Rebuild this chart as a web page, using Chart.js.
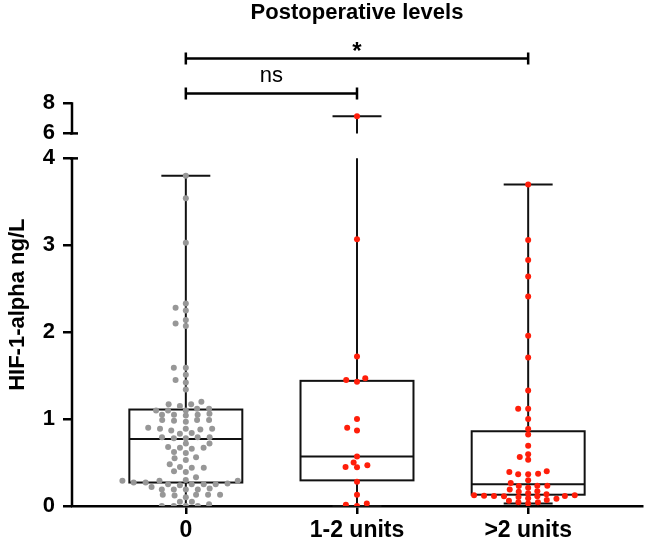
<!DOCTYPE html>
<html>
<head>
<meta charset="utf-8">
<script src="https://cdn.jsdelivr.net/npm/chart.js@4.4.1/dist/chart.umd.min.js"></script>
<style>
  html, body { margin: 0; padding: 0; background: #fff; }
  #wrap { width: 645px; height: 542px; }
</style>
</head>
<body>
<div id="wrap"><canvas id="chart" width="645" height="542"></canvas></div>
<script>
// groups on the x axis
const groups = ['0', '1-2 units', '>2 units'];

// individual values, ng/L
const group0 = [
  3.80, 3.54, 3.03, 2.33, 2.28, 2.25, 2.14, 2.10, 2.07,
  1.59, 1.59, 1.51, 1.45, 1.42, 1.34,
  1.20, 1.17, 1.17, 1.15, 1.12, 1.12, 1.10, 1.10, 1.10,
  1.06, 1.05, 1.05, 1.04, 1.05, 0.99, 0.99, 0.98, 0.99, 0.97,
  0.90, 0.89, 0.89, 0.88, 0.87, 0.89, 0.84, 0.83,
  0.79, 0.78, 0.79, 0.78, 0.79, 0.72, 0.72,
  0.67, 0.67, 0.66, 0.68, 0.61, 0.62, 0.56, 0.55, 0.53, 0.48,
  0.44, 0.44, 0.45, 0.40, 0.39, 0.33,
  0.29, 0.29, 0.30, 0.29, 0.27, 0.27, 0.26,
  0.25, 0.25, 0.25, 0.24, 0.25, 0.22,
  0.19, 0.19, 0.19, 0.20, 0.19, 0.13, 0.13, 0.13, 0.12, 0.13,
  0.10, 0.05, 0.05, 0.02, 0.00, 0.00, 0.00, 0.00
];
const group12 = [
  7.15, 3.07, 1.72, 1.47, 1.45, 1.43, 1.00, 0.90, 0.87,
  0.57, 0.50, 0.47, 0.45, 0.445, 0.28, 0.13, 0.03, 0.015, 0.00
];
const group2plus = [
  3.70, 3.06, 2.83, 2.64, 2.41, 1.96, 1.71, 1.33, 1.12, 1.12,
  1.00, 0.885, 0.824, 0.694, 0.594, 0.563, 0.532,
  0.40, 0.391, 0.371, 0.364, 0.364, 0.295, 0.264,
  0.233, 0.233, 0.23, 0.21, 0.19, 0.169, 0.165, 0.146,
  0.134, 0.123, 0.123, 0.119, 0.115, 0.115, 0.111, 0.111, 0.103,
  0.088, 0.084, 0.069, 0.061, 0.042, 0.042, 0.03
];

// box summaries
const boxMin    = [0.00, 0.00, 0.03];
const boxQ1     = [0.27, 0.295, 0.13];
const boxMedian = [0.77, 0.57, 0.25];
const boxQ3     = [1.11, 1.44, 0.86];
const boxMax    = [3.80, 7.15, 3.70];

const yTicks = [0, 1, 2, 3, 4, 6, 8];
const brackets = [
  { from: 0, to: 1, label: 'ns' },
  { from: 0, to: 2, label: '*' }
];

// styling
const dotColors = ['#979797', '#ff1e0a', '#ff1e0a'];
const swarmSpacing = [12, 11.5, 10];
const ink = '#111';
const FONT = "'Liberation Sans', Arial, sans-serif";

Chart.defaults.font.family = FONT;
Chart.defaults.color = '#000';

// y scale with a break between 4 and 6
class BrokenScale extends Chart.LinearScale {
  _seg() {
    const o = this.options;
    const h = this.bottom - this.top;
    return { low: h * o.lowerShare, gap: h * o.gapShare, h };
  }
  getPixelForValue(value) {
    const o = this.options;
    const s = this._seg();
    if (value <= o.breakLow) return this.bottom - value / o.breakLow * s.low;
    if (value >= o.breakHigh) {
      const up = s.h - s.low - s.gap;
      return this.bottom - s.low - s.gap - (value - o.breakHigh) / (o.max - o.breakHigh) * up;
    }
    return this.bottom - s.low - (value - o.breakLow) / (o.breakHigh - o.breakLow) * s.gap;
  }
  getValueForPixel(pixel) {
    const o = this.options;
    const s = this._seg();
    const d = this.bottom - pixel;
    if (d <= s.low) return d / s.low * o.breakLow;
    if (d <= s.low + s.gap) return o.breakLow + (d - s.low) / s.gap * (o.breakHigh - o.breakLow);
    const up = s.h - s.low - s.gap;
    return o.breakHigh + (d - s.low - s.gap) / up * (o.max - o.breakHigh);
  }
}
BrokenScale.id = 'broken';
BrokenScale.defaults = Chart.LinearScale.defaults;
Chart.register(BrokenScale);

function vline(ctx, y, x, v1, v2, lo, hi) {
  // vertical segment in value space, skipping the axis break
  const a = Math.min(v1, v2), b = Math.max(v1, v2);
  const parts = [];
  if (b <= lo || a >= hi) parts.push([a, b]);
  else {
    if (a < lo) parts.push([a, lo]);
    if (b > hi) parts.push([hi, b]);
  }
  parts.forEach(([p, q]) => {
    ctx.beginPath();
    ctx.moveTo(x, y.getPixelForValue(p));
    ctx.lineTo(x, y.getPixelForValue(q));
    ctx.stroke();
  });
}

const boxPlugin = {
  id: 'boxes',
  beforeDatasetsDraw(chart) {
    const { ctx, scales: { x, y } } = chart;
    const unit = x.getPixelForValue(1) - x.getPixelForValue(0);
    const half = unit * 0.33, cap = unit * 0.143;
    const lo = y.options.breakLow, hi = y.options.breakHigh;
    ctx.save();
    ctx.strokeStyle = ink;
    ctx.lineWidth = 2;
    groups.forEach((g, i) => {
      const cx = x.getPixelForValue(i);
      const yq1 = y.getPixelForValue(boxQ1[i]);
      const yq3 = y.getPixelForValue(boxQ3[i]);
      const ymed = y.getPixelForValue(boxMedian[i]);
      ctx.strokeRect(cx - half, yq3, half * 2, yq1 - yq3);
      ctx.beginPath();
      ctx.moveTo(cx - half, ymed); ctx.lineTo(cx + half, ymed);
      ctx.stroke();
      vline(ctx, y, cx, boxQ3[i], boxMax[i], lo, hi);
      vline(ctx, y, cx, boxMin[i], boxQ1[i], lo, hi);
      [boxMin[i], boxMax[i]].forEach(v => {
        const py = y.getPixelForValue(v);
        ctx.beginPath();
        ctx.moveTo(cx - cap, py); ctx.lineTo(cx + cap, py);
        ctx.stroke();
      });
    });
    ctx.restore();
  }
};

const axisPlugin = {
  id: 'brokenAxis',
  afterDraw(chart) {
    const { ctx, chartArea, scales: { x, y } } = chart;
    const ax = chartArea.left;
    const lo = y.options.breakLow, hi = y.options.breakHigh;
    ctx.save();
    ctx.strokeStyle = '#000';
    ctx.lineWidth = 2.5;
    ctx.lineCap = 'butt';
    [[0, lo], [hi, y.options.max]].forEach(([a, b]) => {
      ctx.beginPath();
      ctx.moveTo(ax, y.getPixelForValue(a) + 1);
      ctx.lineTo(ax, y.getPixelForValue(b) - 1.2);
      ctx.stroke();
    });
    [lo, hi].forEach(v => {
      const py = y.getPixelForValue(v);
      ctx.beginPath();
      ctx.moveTo(ax - 2, py); ctx.lineTo(ax + 6, py);
      ctx.stroke();
    });

    // significance brackets
    const levels = [chartArea.top - 10, chartArea.top - 45];
    brackets.forEach((b, k) => {
      const x1 = x.getPixelForValue(b.from), x2 = x.getPixelForValue(b.to);
      const ly = levels[k];
      ctx.beginPath();
      ctx.moveTo(x1, ly); ctx.lineTo(x2, ly);
      ctx.moveTo(x1, ly - 6); ctx.lineTo(x1, ly + 6);
      ctx.moveTo(x2, ly - 6); ctx.lineTo(x2, ly + 6);
      ctx.stroke();
      ctx.fillStyle = '#000';
      ctx.textAlign = 'center';
      ctx.textBaseline = 'alphabetic';
      if (b.label === '*') {
        ctx.font = 'bold 24px ' + FONT;
        ctx.fillText(b.label, (x1 + x2) / 2, ly + 1);
      } else {
        ctx.font = '22px ' + FONT;
        ctx.fillText(b.label, (x1 + x2) / 2, ly - 11);
      }
    });
    ctx.restore();
  }
};

const values = [group0, group12, group2plus];

const chart = new Chart(document.getElementById('chart'), {
  type: 'scatter',
  data: {
    datasets: values.map((vals, i) => ({
      label: groups[i],
      data: vals.map(v => ({ x: i, y: v })),
      pointRadius: 3,
      pointHoverRadius: 3,
      pointBorderWidth: 0,
      pointBackgroundColor: dotColors[i],
      backgroundColor: dotColors[i]
    }))
  },
  options: {
    responsive: false,
    animation: false,
    events: [],
    layout: { padding: { left: 0, right: 2, top: 0, bottom: 0 } },
    plugins: {
      legend: { display: false },
      tooltip: { enabled: false },
      title: {
        display: true,
        text: 'Postoperative levels',
        fullSize: false,
        font: { size: 22, weight: 'bold' },
        color: '#000',
        padding: { top: 0, bottom: 77 }
      }
    },
    scales: {
      x: {
        type: 'linear',
        min: -0.665,
        max: 2.665,
        afterBuildTicks: s => { s.ticks = groups.map((g, i) => ({ value: i })); },
        afterFit: s => { s.height = 36; },
        ticks: {
          callback: v => groups[v],
          font: { size: 23, weight: 'bold' },
          color: '#000',
          padding: 3,
          maxRotation: 0,
          autoSkip: false
        },
        grid: { display: true, drawOnChartArea: false, drawTicks: true, tickLength: 8, color: '#000', lineWidth: 2.5 },
        border: { display: true, color: '#000', width: 2.5 }
      },
      y: {
        type: 'broken',
        min: 0,
        max: 8,
        breakLow: 4,
        breakHigh: 6,
        lowerShare: 0.8635,
        gapShare: 0.062,
        afterBuildTicks: s => { s.ticks = yTicks.map(v => ({ value: v })); },
        afterFit: s => { s.width = 72; },
        ticks: {
          font: { size: 22, weight: 'bold' },
          color: '#000',
          padding: 8,
          autoSkip: false
        },
        grid: { display: true, drawOnChartArea: false, drawTicks: true, tickLength: 9, color: '#000', lineWidth: 2.5 },
        border: { display: false },
        title: {
          display: true,
          text: 'HIF-1-alpha ng/L',
          font: { size: 22, weight: 'bold' },
          color: '#000',
          padding: { top: 5, bottom: 0 }
        }
      }
    }
  },
  plugins: [boxPlugin, axisPlugin]
});

// beeswarm offsets, computed in pixels from the laid-out scales
function swarm(vals, yScale, sx, sy) {
  const placed = [];
  const out = new Array(vals.length).fill(0);
  const order = vals.map((v, i) => i).sort((a, b) => vals[a] - vals[b]);
  for (const i of order) {
    const py = yScale.getPixelForValue(vals[i]);
    const near = placed.filter(p => Math.abs(p.py - py) < sy);
    const cands = [0];
    near.forEach(p => {
      const w = sx * Math.sqrt(1 - ((p.py - py) / sy) ** 2);
      cands.push(p.dx - w, p.dx + w);
    });
    cands.sort((a, b) => Math.abs(a) - Math.abs(b) || a - b);
    const dx = cands.find(c => near.every(p => {
      const u = (c - p.dx) / sx, w = (py - p.py) / sy;
      return u * u + w * w >= 1 - 1e-6;
    }));
    placed.push({ py, dx });
    out[i] = dx;
  }
  return out;
}

const xs = chart.scales.x;
const pxUnit = xs.getPixelForValue(1) - xs.getPixelForValue(0);
values.forEach((vals, i) => {
  const offs = swarm(vals, chart.scales.y, swarmSpacing[i], 5);
  chart.data.datasets[i].data = vals.map((v, k) => ({ x: i + offs[k] / pxUnit, y: v }));
});
chart.update('none');
</script>
</body>
</html>
